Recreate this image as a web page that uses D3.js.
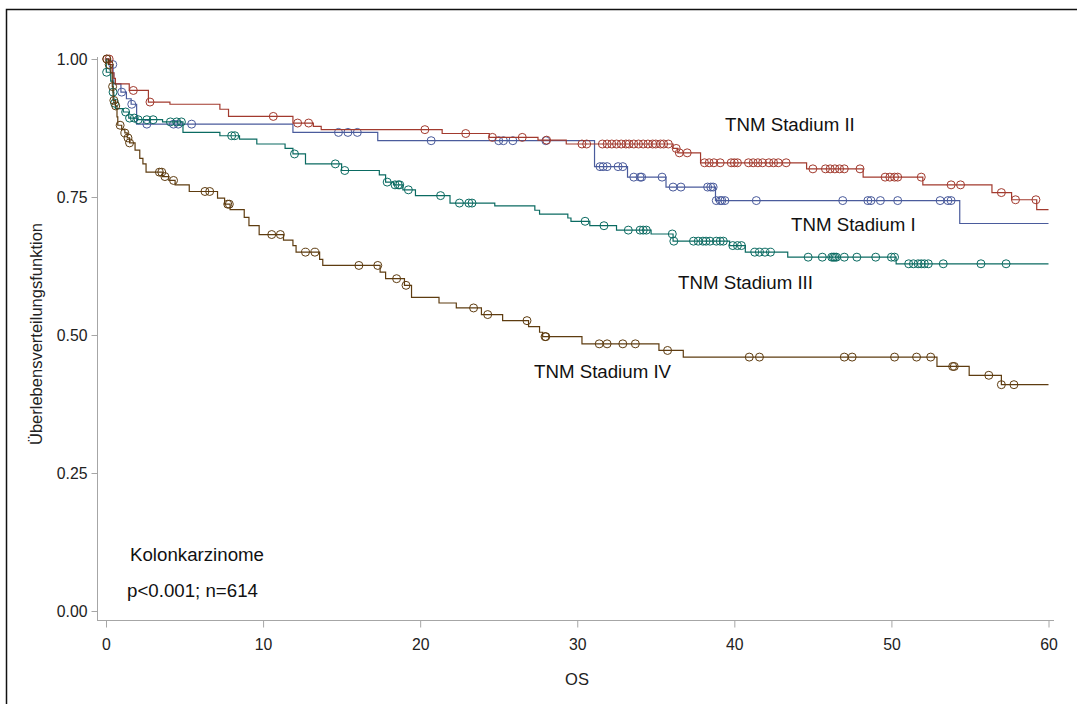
<!DOCTYPE html>
<html>
<head>
<meta charset="utf-8">
<script src="https://cdn.jsdelivr.net/npm/d3@7"></script>
<style>
body { margin: 0; background: #fff; font-family: "Liberation Sans", Arial, sans-serif; }
</style>
</head>
<body>
<svg id="chart" width="1077" height="704"></svg>
<script>
// Kaplan-Meier steps: time (months) and survival after the step
var stage1Times = [0, 0.2, 0.45, 0.5, 0.95, 1.3, 1.6, 1.95, 11.9, 17.3, 31.1, 33.2, 35.65, 38.8, 54.35];
var stage1Surv  = [1.0, 0.99, 0.975, 0.955, 0.94, 0.928, 0.918, 0.882, 0.867, 0.852, 0.805, 0.786, 0.768, 0.7435, 0.702];
var stage1Censor = [0.43, 1.0, 1.64, 2.6, 4.3, 4.6, 5.45, 14.8, 15.4, 16.0, 20.7, 25.0, 25.3, 25.9, 28.0,
  31.45, 31.65, 31.9, 32.6, 32.9, 33.6, 34.0, 34.1, 35.4, 36.1, 36.6, 38.3, 38.5, 38.65, 38.85, 39.1, 39.2, 39.4,
  41.4, 46.9, 48.5, 48.7, 49.3, 50.4, 53.1, 53.6, 53.8];

var stage2Times = [0, 0.25, 0.4, 0.5, 0.6, 1.48, 2.7, 4.07, 7.25, 7.8, 11.9, 13.2, 13.7, 21.4, 24.4, 27.5, 29.3,
  36.1, 36.4, 37.85, 44.6, 48.2, 52.0, 56.4, 57.65, 59.25];
var stage2Surv  = [1.0, 0.99, 0.975, 0.965, 0.955, 0.943, 0.922, 0.918, 0.909, 0.896, 0.884, 0.878, 0.872, 0.865,
  0.858, 0.853, 0.846, 0.838, 0.83, 0.812, 0.801, 0.786, 0.772, 0.758, 0.745, 0.727];
var stage2Censor = [0.05, 0.2, 1.74, 2.8, 10.65, 12.2, 12.9, 20.3, 22.9, 24.6, 26.5, 28.05, 30.3, 30.6,
  31.6, 31.9, 32.2, 32.5, 32.8, 33.1, 33.3, 33.6, 33.9, 34.2, 34.5, 34.8, 35.0, 35.3, 35.5, 35.8,
  36.3, 36.5, 37.0, 38.1, 38.4, 38.7, 39.1, 39.8, 40.0, 40.2, 40.9, 41.2, 41.5, 41.8, 42.2, 42.5, 42.8, 43.3,
  45.0, 45.8, 46.1, 46.4, 46.7, 47.0, 48.0, 49.6, 49.9, 50.2, 50.4, 51.9, 53.8, 54.4, 57.0, 57.9, 59.2];

var stage3Times = [0, 0.02, 0.3, 0.45, 0.5, 0.6, 1.1, 1.45, 2.0, 3.6, 4.9, 7.25, 8.5, 9.6, 11.4, 11.9, 12.7, 15.0,
  17.4, 17.8, 18.3, 18.9, 19.7, 21.9, 24.75, 27.3, 27.6, 29.4, 29.6, 30.8, 32.5, 34.7, 36.1, 39.7, 40.7, 43.4, 50.3];
var stage3Surv  = [1.0, 0.976, 0.96, 0.94, 0.92, 0.91, 0.904, 0.893, 0.89, 0.886, 0.867, 0.861, 0.855, 0.846, 0.838,
  0.828, 0.81, 0.798, 0.79, 0.777, 0.772, 0.763, 0.7525, 0.739, 0.734, 0.726, 0.719, 0.712, 0.706, 0.698, 0.69,
  0.683, 0.67, 0.662, 0.65, 0.641, 0.629];
var stage3Censor = [0.04, 0.45, 0.55, 1.25, 1.5, 1.8, 2.05, 2.6, 3.0, 4.1, 4.5, 4.8, 8.0, 8.2, 12.0, 14.6, 15.2,
  17.9, 18.4, 18.6, 18.7, 19.25, 21.3, 22.5, 23.1, 23.3, 30.5, 31.7, 33.25, 34.0, 34.2, 34.4, 36.05, 36.15,
  37.4, 37.7, 38.0, 38.2, 38.45, 38.85, 39.1, 39.3, 39.9, 40.2, 40.45, 41.3, 41.6, 41.95, 42.3,
  44.7, 45.6, 46.2, 46.3, 46.4, 46.5, 47.0, 47.8, 49.0, 50.0, 50.2,
  51.1, 51.4, 51.7, 51.9, 52.1, 52.35, 53.3, 55.7, 57.3];

var stage4Times = [0, 0.15, 0.3, 0.4, 0.45, 0.6, 0.7, 0.75, 1.0, 1.2, 1.35, 1.5, 1.85, 2.15, 2.35, 2.55, 3.6, 4.0,
  4.4, 5.3, 7.1, 7.55, 7.9, 8.8, 9.1, 9.75, 11.3, 11.9, 12.1, 13.6, 13.8, 17.45, 17.8, 19.0, 19.45, 21.2, 22.3,
  23.9, 25.25, 26.9, 27.6, 27.8, 30.3, 35.2, 36.75, 52.9, 54.95, 57.0];
var stage4Surv  = [1.0, 0.99, 0.975, 0.95, 0.925, 0.915, 0.895, 0.88, 0.872, 0.866, 0.857, 0.848, 0.835, 0.82, 0.81,
  0.795, 0.787, 0.78, 0.772, 0.76, 0.748, 0.737, 0.727, 0.713, 0.698, 0.682, 0.672, 0.662, 0.65, 0.637, 0.626,
  0.614, 0.602, 0.59, 0.568, 0.558, 0.549, 0.537, 0.526, 0.515, 0.505, 0.497, 0.484, 0.472, 0.46, 0.443, 0.427, 0.41];
var stage4Censor = [0.05, 0.2, 0.42, 0.5, 0.62, 0.9, 1.2, 1.4, 1.5, 3.4, 3.55, 3.75, 4.3, 6.3, 6.6, 7.75, 7.85,
  10.55, 11.1, 12.7, 13.3, 16.1, 17.3, 18.5, 19.1, 23.4, 24.3, 26.8, 27.95, 28.0, 31.4, 31.9, 32.9, 33.7, 35.75,
  40.95, 41.6, 47.0, 47.5, 50.2, 51.6, 52.5, 53.9, 54.0, 56.2, 57.0, 57.8];

var xTicks = [0, 10, 20, 30, 40, 50, 60];
var yTicks = [0, 0.25, 0.5, 0.75, 1.0];

var series = [
  { name: 'TNM Stadium I',   times: stage1Times, surv: stage1Surv, censor: stage1Censor, color: '#4a5b9c' },
  { name: 'TNM Stadium II',  times: stage2Times, surv: stage2Surv, censor: stage2Censor, color: '#A23A2E' },
  { name: 'TNM Stadium III', times: stage3Times, surv: stage3Surv, censor: stage3Censor, color: '#0b6b62' },
  { name: 'TNM Stadium IV',  times: stage4Times, surv: stage4Surv, censor: stage4Censor, color: '#5e3c10' }
];

var labels = [
  { text: 'TNM Stadium II',  x: 725, y: 131 },
  { text: 'TNM Stadium I',   x: 791, y: 231 },
  { text: 'TNM Stadium III', x: 678, y: 289 },
  { text: 'TNM Stadium IV',  x: 534, y: 378 },
  { text: 'Kolonkarzinome',  x: 130, y: 561 },
  { text: 'p<0.001; n=614',  x: 127, y: 597 }
];

var axisColor = '#a6a6a6';
var textColor = '#222';

var x = d3.scaleLinear().domain([0, 60]).range([106, 1048.5]);
var y = d3.scaleLinear().domain([0, 1]).range([611, 59]);

var svg = d3.select('#chart');

// outer frame (only top and left edges are visible)
svg.append('path')
  .attr('d', 'M6.5,704V9.5H1077')
  .attr('fill', 'none')
  .attr('stroke', '#111')
  .attr('stroke-width', 1.5);

// x axis
var gx = svg.append('g')
  .attr('transform', 'translate(0,620.5)')
  .call(d3.axisBottom(x).tickValues(xTicks).tickSize(7).tickPadding(11));
gx.select('.domain').remove();
gx.selectAll('.tick line').attr('stroke', axisColor);
gx.selectAll('.tick text').attr('fill', textColor)
  .style('font-size', '15.8px').style('font-family', '"Liberation Sans", Arial, sans-serif');
gx.append('line')
  .attr('x1', 97).attr('x2', 1054)
  .attr('stroke', axisColor);

// y axis
var gy = svg.append('g')
  .attr('transform', 'translate(97.5,0)')
  .call(d3.axisLeft(y).tickValues(yTicks).tickFormat(d3.format('.2f')).tickSize(6).tickPadding(4));
gy.select('.domain').remove();
gy.selectAll('.tick line').attr('stroke', axisColor);
gy.selectAll('.tick text').attr('fill', textColor)
  .style('font-size', '15.8px').style('font-family', '"Liberation Sans", Arial, sans-serif');
gy.append('line')
  .attr('y1', 57).attr('y2', 620.5)
  .attr('stroke', axisColor);

// axis titles
svg.append('text')
  .attr('x', 577).attr('y', 685)
  .attr('text-anchor', 'middle')
  .attr('fill', textColor)
  .style('font-size', '16.5px')
  .text('OS');

svg.append('text')
  .attr('transform', 'translate(42,334)rotate(-90)')
  .attr('text-anchor', 'middle')
  .attr('fill', textColor)
  .style('font-size', '16.5px')
  .text('Überlebensverteilungsfunktion');

// survival curves
var line = d3.line()
  .x(function (d) { return x(d[0]); })
  .y(function (d) { return y(d[1]); })
  .curve(d3.curveStepAfter);

function survAt(s, t) {
  var i = d3.bisectRight(s.times, t) - 1;
  return s.surv[Math.max(i, 0)];
}

series.forEach(function (s) {
  var pts = s.times.map(function (t, i) { return [t, s.surv[i]]; });
  pts.push([x.domain()[1], s.surv[s.surv.length - 1]]);

  svg.append('path')
    .datum(pts)
    .attr('d', line)
    .attr('fill', 'none')
    .attr('stroke', s.color)
    .attr('stroke-width', 1.2);

  svg.append('g').selectAll('circle')
    .data(s.censor)
    .enter().append('circle')
    .attr('cx', function (t) { return x(t); })
    .attr('cy', function (t) { return y(survAt(s, t)); })
    .attr('r', 4)
    .attr('fill', 'none')
    .attr('stroke', s.color)
    .attr('stroke-width', 1);
});

// curve labels and notes
svg.append('g').selectAll('text')
  .data(labels)
  .enter().append('text')
  .attr('x', function (d) { return d.x; })
  .attr('y', function (d) { return d.y; })
  .attr('fill', '#111')
  .style('font-size', '18.7px')
  .text(function (d) { return d.text; });
</script>
</body>
</html>
